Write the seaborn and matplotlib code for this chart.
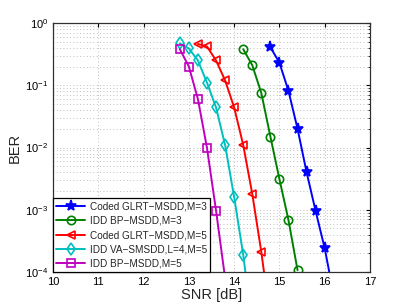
import numpy as np
import pandas as pd
import seaborn as sns
import matplotlib.pyplot as plt

# ---------------- data ----------------
snr_glrt3 = [14.8, 15.0, 15.2, 15.4, 15.6, 15.8, 16.0, 16.2]
ber_glrt3 = [0.41, 0.23, 0.081, 0.020, 4.0e-3, 9.5e-4, 2.4e-4, 4.2e-5]

snr_bp3 = [14.2, 14.4, 14.6, 14.8, 15.0, 15.2, 15.4]
ber_bp3 = [0.38, 0.21, 0.075, 0.015, 3.1e-3, 6.8e-4, 1.07e-4]

snr_glrt5 = [13.2, 13.4, 13.6, 13.8, 14.0, 14.2, 14.4, 14.6, 14.8]
ber_glrt5 = [0.46, 0.42, 0.25, 0.12, 0.044, 0.011, 1.8e-3, 2.1e-4, 1.7e-5]

snr_va5 = [12.8, 13.0, 13.2, 13.4, 13.6, 13.8, 14.0, 14.2, 14.4]
ber_va5 = [0.47, 0.39, 0.25, 0.11, 0.044, 0.011, 1.6e-3, 1.9e-4, 1.3e-5]

snr_bp5 = [12.8, 13.0, 13.2, 13.4, 13.6, 13.8]
ber_bp5 = [0.38, 0.20, 0.06, 0.0099, 9.7e-4, 8e-5]

labels = ["Coded GLRT\u2212MSDD,M=3", "IDD BP\u2212MSDD,M=3",
          "Coded GLRT\u2212MSDD,M=5", "IDD VA\u2212SMSDD,L=4,M=5",
          "IDD BP\u2212MSDD,M=5"]

sns.set_style("white")
plt.rcParams['font.family'] = ['Liberation Sans', 'DejaVu Sans']

fig = plt.figure(figsize=(4.09, 3.08), dpi=100)
ax = fig.add_axes([53/409, 36/308, 317/409, 249/308])

series = [
    (snr_glrt3, ber_glrt3, "#0000ff", "*", True),
    (snr_bp3, ber_bp3, "#008000", "o", False),
    (snr_glrt5, ber_glrt5, "#ff0000", "<", False),
    (snr_va5, ber_va5, "#00bfbf", "d", False),
    (snr_bp5, ber_bp5, "#bf00bf", "s", False),
]

for (x, y, c, m, filled), lab in zip(series, labels):
    df = pd.DataFrame({"snr": x, "ber": y})
    sns.lineplot(data=df, x="snr", y="ber", ax=ax, color=c, marker=m,
                 markersize=8 if m == "*" else 6,
                 markerfacecolor=c if filled else "none",
                 markeredgecolor=c, markeredgewidth=1.2,
                 linewidth=1.4, label=lab, estimator=None, sort=False)

ax.set_yscale("log")
ax.set_xlim(10, 17)
ax.set_ylim(1e-4, 1)
ax.set_xticks(range(10, 18))
ax.set_yticks([1e-4, 1e-3, 1e-2, 1e-1, 1])

ax.grid(True, which="major", linestyle=(0, (1, 3)), color="#a8a8a8", linewidth=0.6)
ax.grid(True, which="minor", axis="y", linestyle=(0, (1, 3)), color="#a8a8a8", linewidth=0.6)
ax.tick_params(which="both", direction="in", labelsize=8, colors="black",
               top=True, right=True, length=3)
ax.tick_params(which="minor", length=1.5)
for s in ax.spines.values():
    s.set_color("#303030")
    s.set_linewidth(0.9)

ax.set_xlabel("SNR [dB]", fontsize=10.5, labelpad=1)
ax.set_ylabel("BER", fontsize=10.5, labelpad=2)

leg = ax.legend(loc="lower left", fontsize=7.2, frameon=True, fancybox=False,
                borderaxespad=0, labelspacing=0.42, handlelength=2.9,
                handletextpad=0.4, borderpad=0.35)
leg.get_frame().set_edgecolor("black")
leg.get_frame().set_linewidth(0.9)
leg.get_frame().set_alpha(1)

fig.savefig("out.png", dpi=100)
